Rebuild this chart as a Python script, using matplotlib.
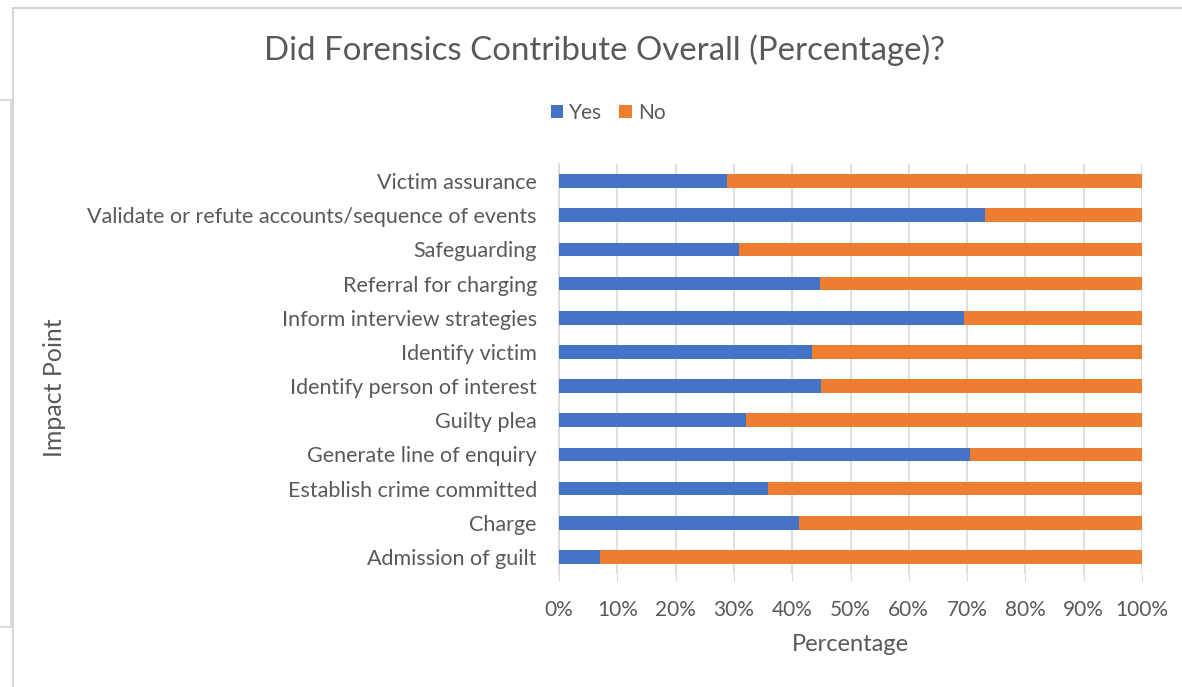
import matplotlib
matplotlib.use("Agg")
import matplotlib.pyplot as plt
from matplotlib.lines import Line2D
import numpy as np

categories = [
    "Victim assurance",
    "Validate or refute accounts/sequence of events",
    "Safeguarding",
    "Referral for charging",
    "Inform interview strategies",
    "Identify victim",
    "Identify person of interest",
    "Guilty plea",
    "Generate line of enquiry",
    "Establish crime committed",
    "Charge",
    "Admission of guilt",
]
yes_pct = [28.9, 73.0, 30.9, 44.7, 69.4, 43.4, 44.9, 32.1, 70.5, 35.9, 41.1, 7.0]
no_pct = [100 - v for v in yes_pct]
xticks = list(range(0, 101, 10))
xticklabels = [f"{t}%" for t in xticks]

plt.rcParams['font.family'] = ['Lato', 'DejaVu Sans']
txt = "#595959"

W, H = 1182, 687
fig = plt.figure(figsize=(W/100, H/100), dpi=100)
ax = fig.add_axes([559/W, 1-574/H, 583/W, 410/H])

y = np.arange(len(categories))[::-1]
ax.barh(y, yes_pct, height=0.4, color="#4472C4", label="Yes", zorder=3)
ax.barh(y, no_pct, left=yes_pct, height=0.4, color="#ED7D31", label="No", zorder=3)

ax.set_xlim(0, 100)
ax.set_ylim(-0.5, len(categories) - 0.5)
ax.set_xticks(xticks)
ax.set_xticklabels(xticklabels, fontsize=15, color=txt)
ax.set_yticks(y)
ax.set_yticklabels(categories, fontsize=15.5, color=txt)
ax.tick_params(axis='y', length=0, pad=16)
ax.tick_params(axis='x', length=5, color="#d9d9d9", pad=14)
ax.grid(axis='x', color="#d9d9d9", linewidth=1.2, zorder=0)
for s in ["top", "right", "bottom"]:
    ax.spines[s].set_visible(False)
ax.spines["left"].set_color("#d9d9d9")
ax.spines["left"].set_linewidth(1.2)

ax.set_xlabel("Percentage", fontsize=17, color=txt, labelpad=10)
fig.text(55/W, 1-388/H, "Impact Point", rotation=90, fontsize=18, color=txt,
         ha="center", va="center")

fig.text(605/W, 1-50/H, "Did Forensics Contribute Overall (Percentage)?",
         fontsize=23.8, color=txt, ha="center", va="center")

leg = fig.legend(loc="center", bbox_to_anchor=(608/W, 1-113/H), ncol=2,
                 frameon=False, fontsize=15, handlelength=0.6, handleheight=0.6,
                 handletextpad=0.3, columnspacing=0.8)
for t in leg.get_texts():
    t.set_color(txt)

# frame lines
fc = "#d6d6d6"
fig.add_artist(Line2D([13/W, 1], [1-8/H, 1-8/H], color=fc, lw=1.5))
fig.add_artist(Line2D([13/W, 13/W], [1-8/H, 0], color=fc, lw=1.5))
fig.add_artist(Line2D([0, 11/W], [1-100/H, 1-100/H], color=fc, lw=1.2))
fig.add_artist(Line2D([0, 11/W], [1-627/H, 1-627/H], color=fc, lw=1.2))
fig.add_artist(Line2D([11/W, 11/W], [1-100/H, 1-627/H], color=fc, lw=1.2))

fig.savefig("out.png", dpi=100, facecolor="white")
